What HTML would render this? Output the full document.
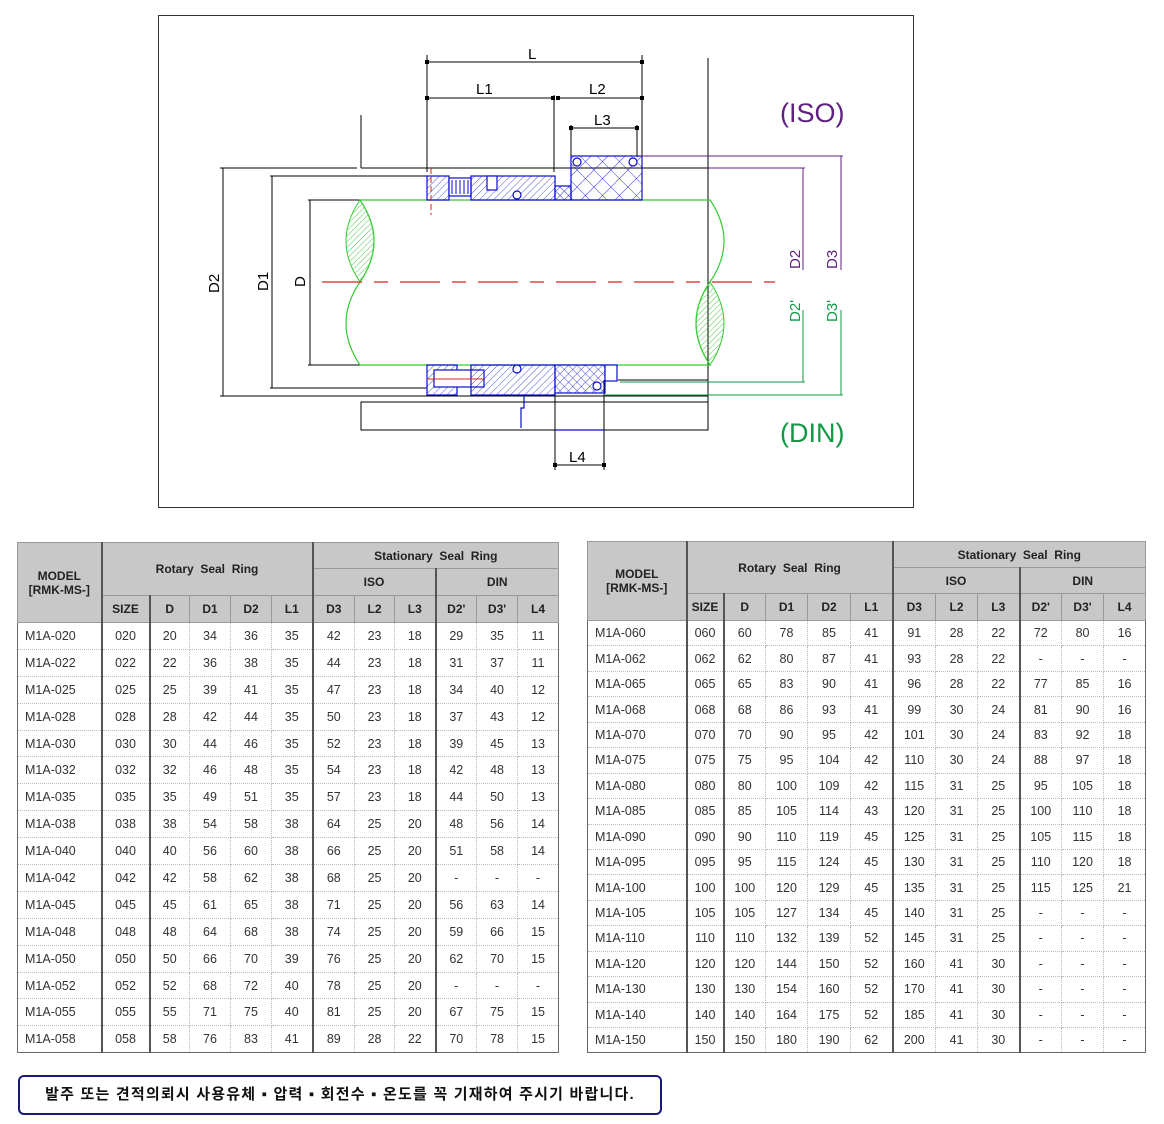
<!DOCTYPE html>
<html><head><meta charset="utf-8">
<style>
body{margin:0;width:1164px;height:1124px;background:#fff;position:relative;font-family:"Liberation Sans","Noto Sans CJK KR",sans-serif;overflow:hidden}
.frame{position:absolute;left:158px;top:15px;width:754px;height:491px;border:1px solid #333}
table{position:absolute;border-collapse:collapse;table-layout:fixed;font-size:12.5px;color:#333}
td,th{padding:0;text-align:center;border:1px dotted #bbb;white-space:nowrap;overflow:hidden}
th{background:#c8c8c8;font-weight:bold;color:#222;font-size:12px;border:1px solid #999}
td:first-child{text-align:left;padding-left:7px}
.t{border:1px solid #666}
.t td:nth-child(1),.t td:nth-child(2),.t td:nth-child(6),.t td:nth-child(9){border-right:2px solid #555}
.t th.b{border-right:2px solid #555}
#t1 tr.d{height:26.9px}
#t2 tr.d{height:25.45px}
.note{position:absolute;left:18px;top:1075px;width:640px;height:36px;border:2px solid #1a1a7a;border-radius:6px;font-weight:bold;font-size:15px;color:#111;line-height:36px;text-align:center;letter-spacing:1.2px;white-space:nowrap;overflow:hidden}
</style></head><body>
<div class="frame"></div>
<svg style="position:absolute;left:0;top:0" width="1164" height="520" font-family="Liberation Sans, sans-serif">
<defs>
<pattern id="h1" width="5" height="5" patternUnits="userSpaceOnUse" patternTransform="rotate(45)"><line x1="0" y1="0" x2="0" y2="5" stroke="#0a0ad0" stroke-width="0.7"/></pattern>
<pattern id="hg" width="4" height="4" patternUnits="userSpaceOnUse" patternTransform="rotate(45)"><line x1="0" y1="0" x2="0" y2="4" stroke="#22bb22" stroke-width="0.8"/></pattern>
<pattern id="hx" width="12" height="12" patternUnits="userSpaceOnUse" patternTransform="rotate(45)"><path d="M0 0H12M0 0V12" stroke="#0a0ad0" stroke-width="0.8" fill="none"/></pattern>
<pattern id="hx2" width="6" height="6" patternUnits="userSpaceOnUse" patternTransform="rotate(45)"><path d="M0 0H6M0 0V6" stroke="#0a0ad0" stroke-width="0.8" fill="none"/></pattern>
</defs>
<g stroke="#000" stroke-width="1" fill="none">
<line x1="427" y1="62" x2="642" y2="62"/><line x1="427" y1="98" x2="553" y2="98"/><line x1="556" y1="98" x2="642" y2="98"/>
<line x1="571" y1="128" x2="637" y2="128"/>
<line x1="427" y1="55" x2="427" y2="172"/><line x1="554" y1="95" x2="554" y2="172"/><line x1="642" y1="55" x2="642" y2="165"/>
<line x1="571" y1="125" x2="571" y2="157"/><line x1="637" y1="125" x2="637" y2="157"/>
<line x1="708" y1="58" x2="708" y2="430"/><line x1="361" y1="115" x2="361" y2="168"/>
<line x1="220" y1="168" x2="357" y2="168"/><line x1="361" y1="168" x2="708" y2="168"/>
<line x1="270" y1="176" x2="427" y2="176"/><line x1="308" y1="200" x2="360" y2="200"/>
<line x1="308" y1="365" x2="360" y2="365"/><line x1="270" y1="388" x2="427" y2="388"/>
<line x1="220" y1="396" x2="708" y2="396"/>
<line x1="223" y1="168" x2="223" y2="396"/><line x1="272" y1="176" x2="272" y2="388"/><line x1="310" y1="200" x2="310" y2="365"/>
<rect x="361" y="402" width="347" height="28"/>
<line x1="555" y1="395" x2="555" y2="470"/><line x1="604" y1="380" x2="604" y2="470"/>
<line x1="555" y1="465" x2="604" y2="465"/>
<line x1="618" y1="380" x2="708" y2="380"/>
</g>
<g fill="#000"><rect x="425" y="60" width="4" height="4"/><rect x="640" y="60" width="4" height="4"/><rect x="425" y="96" width="4" height="4"/><rect x="551" y="96" width="4" height="4"/><rect x="556" y="96" width="4" height="4"/><rect x="640" y="96" width="4" height="4"/><rect x="569" y="126" width="4" height="4"/><rect x="635" y="126" width="4" height="4"/><rect x="553" y="463" width="4" height="4"/><rect x="602" y="463" width="4" height="4"/></g>
<g font-size="15" fill="#000">
<text x="528" y="59">L</text><text x="476" y="94">L1</text><text x="589" y="94">L2</text><text x="594" y="125">L3</text><text x="569" y="462">L4</text>
<text transform="translate(219,293) rotate(-90)">D2</text><text transform="translate(268,291) rotate(-90)">D1</text><text transform="translate(305,287) rotate(-90)">D</text>
</g>
<path d="M360 200 H710 Q738 241 710 282 Q682 323 710 365 H360 Q332 323 360 282 Q388 241 360 200Z" fill="none" stroke="#33cc33" stroke-width="1.2"/>
<path d="M360 200 Q332 241 360 282 Q388 241 360 200Z" fill="url(#hg)" stroke="#33cc33"/>
<path d="M710 282 Q682 323 710 365 Q738 323 710 282Z" fill="url(#hg)" stroke="#33cc33"/>
<line x1="322" y1="282" x2="775" y2="282" stroke="#dd2222" stroke-width="1.2" stroke-dasharray="40,12,14,12"/>
<g stroke="#0a0ad0" stroke-width="1.2">
<rect x="427" y="176" width="22" height="24" fill="url(#h1)"/>
<rect x="449" y="178" width="22" height="18" fill="#fff"/>
<path d="M452 180v14M456 180v14M460 180v14M464 180v14M468 180v14" stroke-width="1"/>
<rect x="471" y="176" width="84" height="24" fill="url(#h1)"/>
<rect x="487" y="176" width="10" height="14" fill="#fff"/>
<circle cx="517" cy="195" r="4" fill="#fff"/>
<rect x="555" y="186" width="16" height="14" fill="url(#hx2)"/>
<rect x="571" y="156" width="71" height="44" fill="url(#hx)"/>
<circle cx="577" cy="162" r="4" fill="#fff"/><circle cx="633" cy="162" r="4" fill="#fff"/>
<rect x="427" y="365" width="30" height="30" fill="url(#h1)"/>
<rect x="434" y="370" width="50" height="17" fill="#fff"/>
<rect x="471" y="365" width="84" height="30" fill="url(#h1)"/>
<circle cx="517" cy="369" r="4" fill="#fff"/>
<rect x="555" y="365" width="50" height="28" fill="url(#hx2)"/>
<rect x="605" y="365" width="12" height="16" fill="#fff"/>
<circle cx="597" cy="386" r="4" fill="#fff"/>
<path d="M524 396v12h-3v20" fill="none"/>
<line x1="555" y1="430" x2="604" y2="430"/>
</g>
<line x1="431" y1="168" x2="431" y2="215" stroke="#dd2222" stroke-dasharray="6,3"/>
<line x1="427" y1="379" x2="484" y2="379" stroke="#dd2222"/>
<g stroke="#602080" fill="none"><line x1="640" y1="156" x2="843" y2="156"/><line x1="708" y1="168" x2="805" y2="168"/><line x1="803" y1="168" x2="803" y2="270"/><line x1="841" y1="156" x2="841" y2="270"/></g>
<g stroke="#119944" fill="none"><line x1="620" y1="382" x2="805" y2="382"/><line x1="605" y1="395" x2="843" y2="395"/><line x1="803" y1="310" x2="803" y2="382"/><line x1="841" y1="310" x2="841" y2="395"/></g>
<g font-size="15" fill="#602080"><text transform="translate(800,269) rotate(-90)">D2</text><text transform="translate(837,269) rotate(-90)">D3</text></g>
<g font-size="15" fill="#119944"><text transform="translate(800,322) rotate(-90)">D2'</text><text transform="translate(837,322) rotate(-90)">D3'</text></g>
<text x="780" y="122" font-size="27" fill="#602080">(ISO)</text>
<text x="780" y="442" font-size="27" fill="#119944">(DIN)</text>
</svg>

<table id="t1" class="t" style="left:17px;top:542px;width:541px">
<colgroup><col style="width:84px"><col style="width:48px"><col style="width:40px"><col style="width:41px"><col style="width:41px"><col style="width:41px"><col style="width:42px"><col style="width:40px"><col style="width:41px"><col style="width:41px"><col style="width:41px"><col style="width:41px"></colgroup>
<tr style="height:26px"><th rowspan="3" class="b">MODEL<br>[RMK-MS-]</th><th colspan="5" rowspan="2" class="b">Rotary&nbsp; Seal&nbsp; Ring</th><th colspan="6">Stationary&nbsp; Seal&nbsp; Ring</th></tr>
<tr style="height:27px"><th colspan="3" class="b">ISO</th><th colspan="3">DIN</th></tr>
<tr style="height:27px"><th class="b">SIZE</th><th>D</th><th>D1</th><th>D2</th><th class="b">L1</th><th>D3</th><th>L2</th><th class="b">L3</th><th>D2'</th><th>D3'</th><th>L4</th></tr>
<tr class="d"><td>M1A-020</td><td>020</td><td>20</td><td>34</td><td>36</td><td>35</td><td>42</td><td>23</td><td>18</td><td>29</td><td>35</td><td>11</td></tr>
<tr class="d"><td>M1A-022</td><td>022</td><td>22</td><td>36</td><td>38</td><td>35</td><td>44</td><td>23</td><td>18</td><td>31</td><td>37</td><td>11</td></tr>
<tr class="d"><td>M1A-025</td><td>025</td><td>25</td><td>39</td><td>41</td><td>35</td><td>47</td><td>23</td><td>18</td><td>34</td><td>40</td><td>12</td></tr>
<tr class="d"><td>M1A-028</td><td>028</td><td>28</td><td>42</td><td>44</td><td>35</td><td>50</td><td>23</td><td>18</td><td>37</td><td>43</td><td>12</td></tr>
<tr class="d"><td>M1A-030</td><td>030</td><td>30</td><td>44</td><td>46</td><td>35</td><td>52</td><td>23</td><td>18</td><td>39</td><td>45</td><td>13</td></tr>
<tr class="d"><td>M1A-032</td><td>032</td><td>32</td><td>46</td><td>48</td><td>35</td><td>54</td><td>23</td><td>18</td><td>42</td><td>48</td><td>13</td></tr>
<tr class="d"><td>M1A-035</td><td>035</td><td>35</td><td>49</td><td>51</td><td>35</td><td>57</td><td>23</td><td>18</td><td>44</td><td>50</td><td>13</td></tr>
<tr class="d"><td>M1A-038</td><td>038</td><td>38</td><td>54</td><td>58</td><td>38</td><td>64</td><td>25</td><td>20</td><td>48</td><td>56</td><td>14</td></tr>
<tr class="d"><td>M1A-040</td><td>040</td><td>40</td><td>56</td><td>60</td><td>38</td><td>66</td><td>25</td><td>20</td><td>51</td><td>58</td><td>14</td></tr>
<tr class="d"><td>M1A-042</td><td>042</td><td>42</td><td>58</td><td>62</td><td>38</td><td>68</td><td>25</td><td>20</td><td>-</td><td>-</td><td>-</td></tr>
<tr class="d"><td>M1A-045</td><td>045</td><td>45</td><td>61</td><td>65</td><td>38</td><td>71</td><td>25</td><td>20</td><td>56</td><td>63</td><td>14</td></tr>
<tr class="d"><td>M1A-048</td><td>048</td><td>48</td><td>64</td><td>68</td><td>38</td><td>74</td><td>25</td><td>20</td><td>59</td><td>66</td><td>15</td></tr>
<tr class="d"><td>M1A-050</td><td>050</td><td>50</td><td>66</td><td>70</td><td>39</td><td>76</td><td>25</td><td>20</td><td>62</td><td>70</td><td>15</td></tr>
<tr class="d"><td>M1A-052</td><td>052</td><td>52</td><td>68</td><td>72</td><td>40</td><td>78</td><td>25</td><td>20</td><td>-</td><td>-</td><td>-</td></tr>
<tr class="d"><td>M1A-055</td><td>055</td><td>55</td><td>71</td><td>75</td><td>40</td><td>81</td><td>25</td><td>20</td><td>67</td><td>75</td><td>15</td></tr>
<tr class="d"><td>M1A-058</td><td>058</td><td>58</td><td>76</td><td>83</td><td>41</td><td>89</td><td>28</td><td>22</td><td>70</td><td>78</td><td>15</td></tr>
</table>

<table id="t2" class="t" style="left:587px;top:541px;width:559px">
<colgroup><col style="width:99px"><col style="width:37px"><col style="width:42px"><col style="width:42px"><col style="width:43px"><col style="width:42px"><col style="width:43px"><col style="width:42px"><col style="width:42px"><col style="width:42px"><col style="width:42px"><col style="width:42px"></colgroup>
<tr style="height:26px"><th rowspan="3" class="b">MODEL<br>[RMK-MS-]</th><th colspan="5" rowspan="2" class="b">Rotary&nbsp; Seal&nbsp; Ring</th><th colspan="6">Stationary&nbsp; Seal&nbsp; Ring</th></tr>
<tr style="height:26px"><th colspan="3" class="b">ISO</th><th colspan="3">DIN</th></tr>
<tr style="height:27px"><th class="b">SIZE</th><th>D</th><th>D1</th><th>D2</th><th class="b">L1</th><th>D3</th><th>L2</th><th class="b">L3</th><th>D2'</th><th>D3'</th><th>L4</th></tr>
<tr class="d"><td>M1A-060</td><td>060</td><td>60</td><td>78</td><td>85</td><td>41</td><td>91</td><td>28</td><td>22</td><td>72</td><td>80</td><td>16</td></tr>
<tr class="d"><td>M1A-062</td><td>062</td><td>62</td><td>80</td><td>87</td><td>41</td><td>93</td><td>28</td><td>22</td><td>-</td><td>-</td><td>-</td></tr>
<tr class="d"><td>M1A-065</td><td>065</td><td>65</td><td>83</td><td>90</td><td>41</td><td>96</td><td>28</td><td>22</td><td>77</td><td>85</td><td>16</td></tr>
<tr class="d"><td>M1A-068</td><td>068</td><td>68</td><td>86</td><td>93</td><td>41</td><td>99</td><td>30</td><td>24</td><td>81</td><td>90</td><td>16</td></tr>
<tr class="d"><td>M1A-070</td><td>070</td><td>70</td><td>90</td><td>95</td><td>42</td><td>101</td><td>30</td><td>24</td><td>83</td><td>92</td><td>18</td></tr>
<tr class="d"><td>M1A-075</td><td>075</td><td>75</td><td>95</td><td>104</td><td>42</td><td>110</td><td>30</td><td>24</td><td>88</td><td>97</td><td>18</td></tr>
<tr class="d"><td>M1A-080</td><td>080</td><td>80</td><td>100</td><td>109</td><td>42</td><td>115</td><td>31</td><td>25</td><td>95</td><td>105</td><td>18</td></tr>
<tr class="d"><td>M1A-085</td><td>085</td><td>85</td><td>105</td><td>114</td><td>43</td><td>120</td><td>31</td><td>25</td><td>100</td><td>110</td><td>18</td></tr>
<tr class="d"><td>M1A-090</td><td>090</td><td>90</td><td>110</td><td>119</td><td>45</td><td>125</td><td>31</td><td>25</td><td>105</td><td>115</td><td>18</td></tr>
<tr class="d"><td>M1A-095</td><td>095</td><td>95</td><td>115</td><td>124</td><td>45</td><td>130</td><td>31</td><td>25</td><td>110</td><td>120</td><td>18</td></tr>
<tr class="d"><td>M1A-100</td><td>100</td><td>100</td><td>120</td><td>129</td><td>45</td><td>135</td><td>31</td><td>25</td><td>115</td><td>125</td><td>21</td></tr>
<tr class="d"><td>M1A-105</td><td>105</td><td>105</td><td>127</td><td>134</td><td>45</td><td>140</td><td>31</td><td>25</td><td>-</td><td>-</td><td>-</td></tr>
<tr class="d"><td>M1A-110</td><td>110</td><td>110</td><td>132</td><td>139</td><td>52</td><td>145</td><td>31</td><td>25</td><td>-</td><td>-</td><td>-</td></tr>
<tr class="d"><td>M1A-120</td><td>120</td><td>120</td><td>144</td><td>150</td><td>52</td><td>160</td><td>41</td><td>30</td><td>-</td><td>-</td><td>-</td></tr>
<tr class="d"><td>M1A-130</td><td>130</td><td>130</td><td>154</td><td>160</td><td>52</td><td>170</td><td>41</td><td>30</td><td>-</td><td>-</td><td>-</td></tr>
<tr class="d"><td>M1A-140</td><td>140</td><td>140</td><td>164</td><td>175</td><td>52</td><td>185</td><td>41</td><td>30</td><td>-</td><td>-</td><td>-</td></tr>
<tr class="d"><td>M1A-150</td><td>150</td><td>150</td><td>180</td><td>190</td><td>62</td><td>200</td><td>41</td><td>30</td><td>-</td><td>-</td><td>-</td></tr>
</table>

<div class="note">발주 또는 견적의뢰시 사용유체 ▪ 압력 ▪ 회전수 ▪ 온도를 꼭 기재하여 주시기 바랍니다.</div>
</body></html>
